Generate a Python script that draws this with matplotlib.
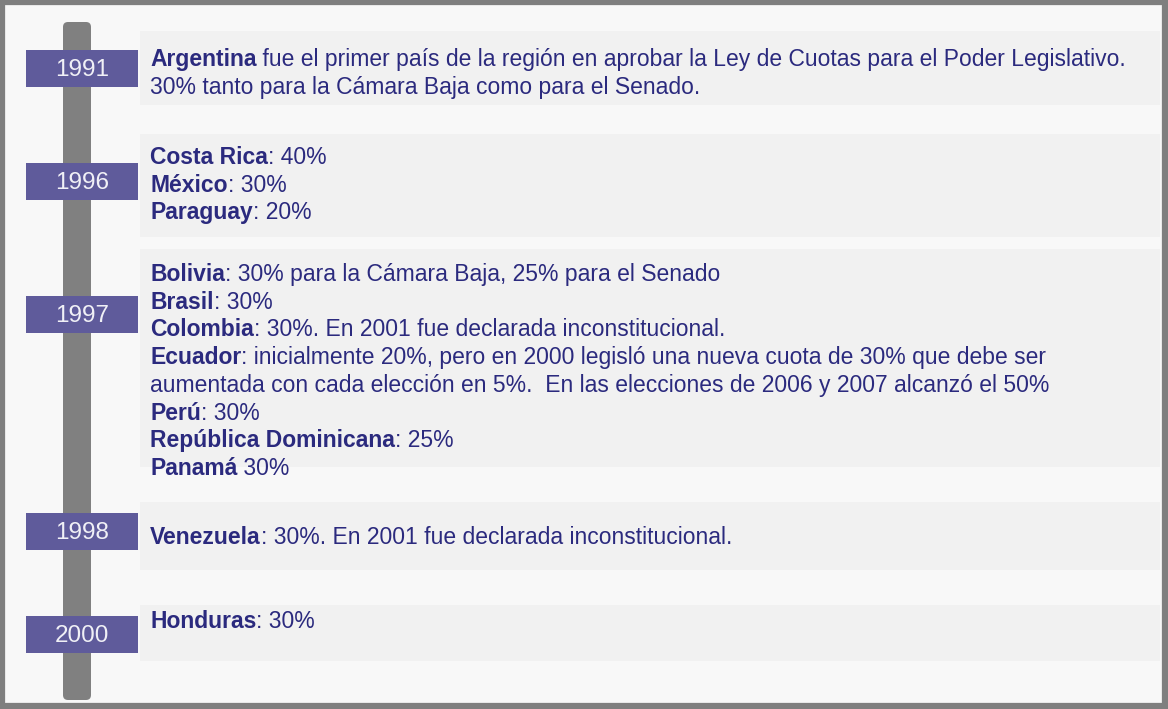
import matplotlib.pyplot as plt
from matplotlib.patches import Rectangle, FancyBboxPatch

## datos
years = ['1991', '1996', '1997', '1998', '2000']

lines_1991 = [('Argentina', ' fue el primer país de la región en aprobar la Ley de Cuotas para el Poder Legislativo.'),
              ('', '30% tanto para la Cámara Baja como para el Senado.')]
lines_1996 = [('Costa Rica', ': 40%'),
              ('México', ': 30%'),
              ('Paraguay', ': 20%')]
lines_1997 = [('Bolivia', ': 30% para la Cámara Baja, 25% para el Senado'),
              ('Brasil', ': 30%'),
              ('Colombia', ': 30%. En 2001 fue declarada inconstitucional.'),
              ('Ecuador', ': inicialmente 20%, pero en 2000 legisló una nueva cuota de 30% que debe ser'),
              ('', 'aumentada con cada elección en 5%.  En las elecciones de 2006 y 2007 alcanzó el 50%'),
              ('Perú', ': 30%'),
              ('República Dominicana', ': 25%'),
              ('Panamá', ' 30%')]
lines_1998 = [('Venezuela', ': 30%. En 2001 fue declarada inconstitucional.')]
lines_2000 = [('Honduras', ': 30%')]
entries = [lines_1991, lines_1996, lines_1997, lines_1998, lines_2000]

## layout (pixels)
W, H = 1168, 709
box_y = [68.5, 181, 314, 531, 634.5]
panel_top = [31, 134, 249, 502, 605]
panel_bot = [105, 237, 467, 570, 661]
first_line = [58, 156, 273, 536, 620]
step = 27.7

navy = '#2b2a7e'
purple = '#5f5b9b'
fs = 16.5
font = ['Liberation Sans', 'DejaVu Sans']

fig = plt.figure(figsize=(W / 100, H / 100), dpi=100)
fig.patch.set_facecolor('#f8f8f8')
ax = fig.add_axes([0, 0, 1, 1])
ax.set_xlim(0, W)
ax.set_ylim(H, 0)
ax.axis('off')

# marco
ax.add_patch(Rectangle((2, 2), W - 5, H - 5, fill=False, edgecolor='#7f7f7f', linewidth=4.5))

# paneles grises
for t, b in zip(panel_top, panel_bot):
    ax.add_patch(Rectangle((140, t), 1020, b - t, facecolor='#f1f1f1', edgecolor='none'))

# barra vertical
ax.add_patch(FancyBboxPatch((63, 22), 28, 678, boxstyle='round,pad=0,rounding_size=5',
                            facecolor='#808080', edgecolor='none'))

# cajas de años
for yr, yc in zip(years, box_y):
    ax.add_patch(Rectangle((26, yc - 18.5), 112, 37, facecolor=purple, edgecolor='none'))
    ax.text(82, yc + 8, yr, color='#f0f0f6', fontsize=17.5, family=font,
            ha='center', va='baseline')

fig.canvas.draw()
r = fig.canvas.get_renderer()

for lines, y0 in zip(entries, first_line):
    for i, (bold, rest) in enumerate(lines):
        yb = y0 + i * step + 8
        x = 150
        if bold:
            tb = ax.text(x, yb, bold, color=navy, fontsize=fs, family=font,
                         fontweight='bold', ha='left', va='baseline')
            x += tb.get_window_extent(r).width
        ax.text(x, yb, rest, color=navy, fontsize=fs, family=font,
                ha='left', va='baseline')

fig.savefig('out.png', dpi=100, facecolor=fig.get_facecolor())
